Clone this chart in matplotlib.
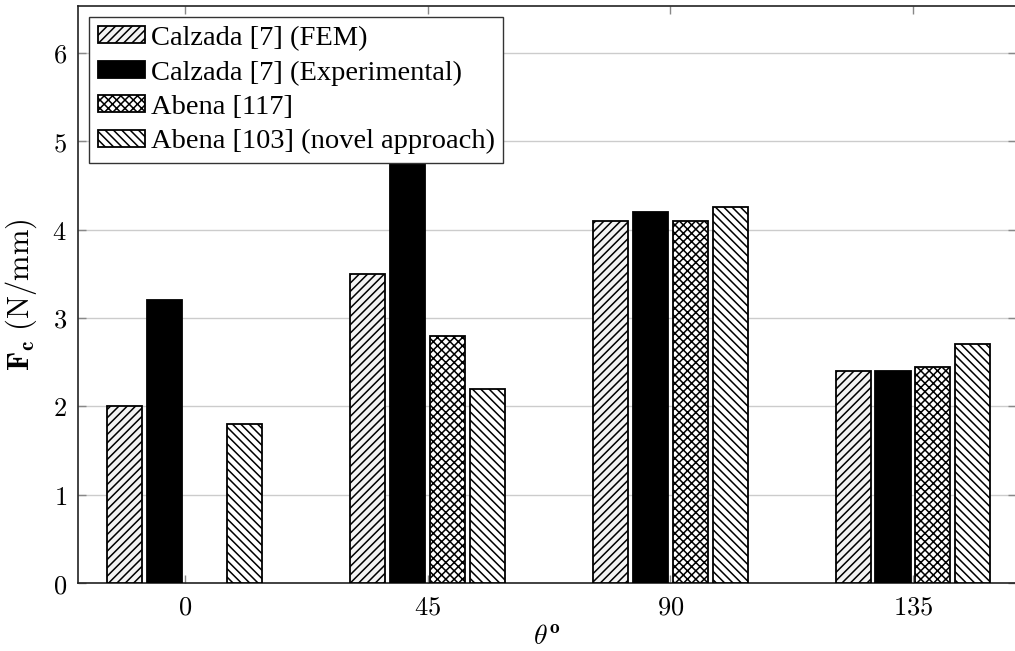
import numpy as np
import matplotlib
matplotlib.use("Agg")
import matplotlib.pyplot as plt

# ---- data ----
angles = [0, 45, 90, 135]
angle_labels = ["0", "45", "90", "135"]
fem = [2.0, 3.5, 4.1, 2.4]
experimental = [3.2, 5.0, 4.2, 2.4]
abena_117 = [np.nan, 2.8, 4.1, 2.45]
abena_103 = [1.8, 2.2, 4.25, 2.7]
series_labels = ["Calzada [7] (FEM)", "Calzada [7] (Experimental)",
                 "Abena [117]", "Abena [103] (novel approach)"]
y_ticks = [0, 1, 2, 3, 4, 5, 6]

plt.rcParams['mathtext.fontset'] = 'cm'
plt.rcParams['hatch.linewidth'] = 1.1
plt.rcParams['hatch.color'] = 'black'

W, H = 1015, 651
fig = plt.figure(figsize=(W / 100, H / 100), dpi=100)
left_px, right_px, top_px, bottom_px = 78, 1016, 6, 583
ax = fig.add_axes([left_px / W, (H - bottom_px) / H,
                   (right_px - left_px) / W, (bottom_px - top_px) / H])

bar_w = 6.5
offsets = [-11.1, -3.7, 3.7, 11.1]
series = [fem, experimental, abena_117, abena_103]
styles = [dict(facecolor='#f4f4f4', hatch='////'),
          dict(facecolor='black', hatch=None),
          dict(facecolor='white', hatch='xxxx'),
          dict(facecolor='white', hatch='\\\\\\\\')]

x = np.array(angles, dtype=float)
for vals, off, st, lab in zip(series, offsets, styles, series_labels):
    ax.bar(x + off, vals, width=bar_w, edgecolor='black', linewidth=1.3,
           label=lab, zorder=3, **st)

ax.set_xlim(-19.8, 154.1)
ax.set_ylim(0, 6.53)
ax.set_xticks(angles)
ax.set_xticklabels([f"${t}$" for t in angle_labels], fontsize=19)
ax.set_yticks(y_ticks)
ax.set_yticklabels([f"${t}$" for t in y_ticks], fontsize=19)
ax.tick_params(axis='both', direction='in', length=6, width=1.0,
               color='#888888', top=True, right=True, pad=8)
ax.grid(axis='y', color='#cccccc', linewidth=1.0, zorder=0)
ax.set_axisbelow(True)
for s in ax.spines.values():
    s.set_linewidth(1.2)
    s.set_color('#222222')

ax.set_ylabel(r'$\mathbf{F}_\mathbf{c}\ \mathrm{(N/mm)}$', fontsize=22, labelpad=10)
ax.set_xlabel(r'$\theta^{\mathbf{o}}$', fontsize=20, labelpad=1)

leg = ax.legend(loc='upper left', prop={'family': 'Liberation Serif', 'size': 20.5},
                frameon=True, fancybox=False, edgecolor='#333333',
                handlelength=1.65, handleheight=0.55, handletextpad=0.2,
                borderaxespad=0.4, borderpad=0.3, labelspacing=0.33,
                framealpha=1.0)
leg.get_frame().set_linewidth(1.0)
leg.set_zorder(10)

fig.savefig("out.png", dpi=100)
